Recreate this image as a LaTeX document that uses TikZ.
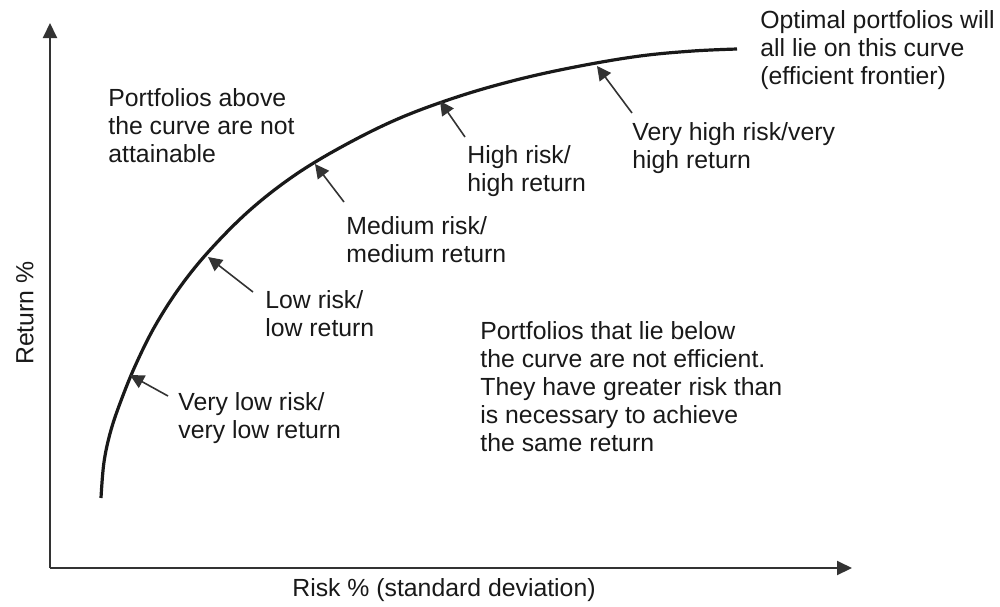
\documentclass[tikz,border=0pt]{standalone}
\usepackage{fontspec}
\setmainfont{Liberation Sans}
\usetikzlibrary{arrows.meta}

\tikzset{
    txt/.style={font=\fontsize{12.4}{14}\selectfont, text=black!90, align=left, anchor=north west, inner sep=0pt},
    pointer/.style={-{Triangle[length=7pt,width=7pt]}, line width=0.8pt, black!80},
    axis/.style={-{Triangle[length=7.5pt,width=7pt]}, line width=1pt, black!80}
}

\begin{document}
\begin{tikzpicture}[x=0.5pt,y=-0.5pt]
    \useasboundingbox (0,0) rectangle (1000,606);
    % axes
    \coordinate (origin) at (50,568);
    \coordinate (ytop) at (50,23);
    \coordinate (xend) at (852,568);
    \draw[axis] (origin) -- (ytop);
    \draw[axis] (origin) -- (xend);
    \node[txt, anchor=base] (xlabel) at (444,596) {Risk \% (standard deviation)};
    \node[txt, anchor=center, rotate=90] (ylabel) at (25,313) {Return \%};

    % efficient frontier
    \draw[line width=1.6pt, black!90] plot[smooth, tension=0.6] coordinates {
        (101,498) (104,462) (111,430) (122,398) (136,364) (155,326)
        (180,287) (210,250) (250,210) (295,175) (345,145) (400,118)
        (460,96) (520,79) (580,66) (640,56) (693,51) (737,49)};

    % labels
    \node[txt] (above) at (108,88) {Portfolios above\\the curve are not\\attainable};
    \node[txt] (optimal) at (760,10) {Optimal portfolios will\\all lie on this curve\\(efficient frontier)};
    \node[txt] (below) at (480,321) {Portfolios that lie below\\the curve are not efficient.\\They have greater risk than\\is necessary to achieve\\the same return};

    \node[txt] (vlow) at (178,392) {Very low risk/\\very low return};
    \node[txt] (low) at (265,290) {Low risk/\\low return};
    \node[txt] (med) at (346,216) {Medium risk/\\medium return};
    \node[txt] (high) at (467,145) {High risk/\\high return};
    \node[txt] (vhigh) at (632,122) {Very high risk/very\\high return};

    % pointers
    \coordinate (vlowtail) at (168,396);
    \coordinate (vlowtip) at (130,375);
    \coordinate (lowtail) at (253,292);
    \coordinate (lowtip) at (208,257);
    \coordinate (medtail) at (344,202);
    \coordinate (medtip) at (315,164);
    \coordinate (hightail) at (465,137);
    \coordinate (hightip) at (440,101);
    \coordinate (vhightail) at (632,113);
    \coordinate (vhightip) at (597,66);
    \draw[pointer] (vlowtail) -- (vlowtip);
    \draw[pointer] (lowtail) -- (lowtip);
    \draw[pointer] (medtail) -- (medtip);
    \draw[pointer] (hightail) -- (hightip);
    \draw[pointer] (vhightail) -- (vhightip);
\end{tikzpicture}
\end{document}
